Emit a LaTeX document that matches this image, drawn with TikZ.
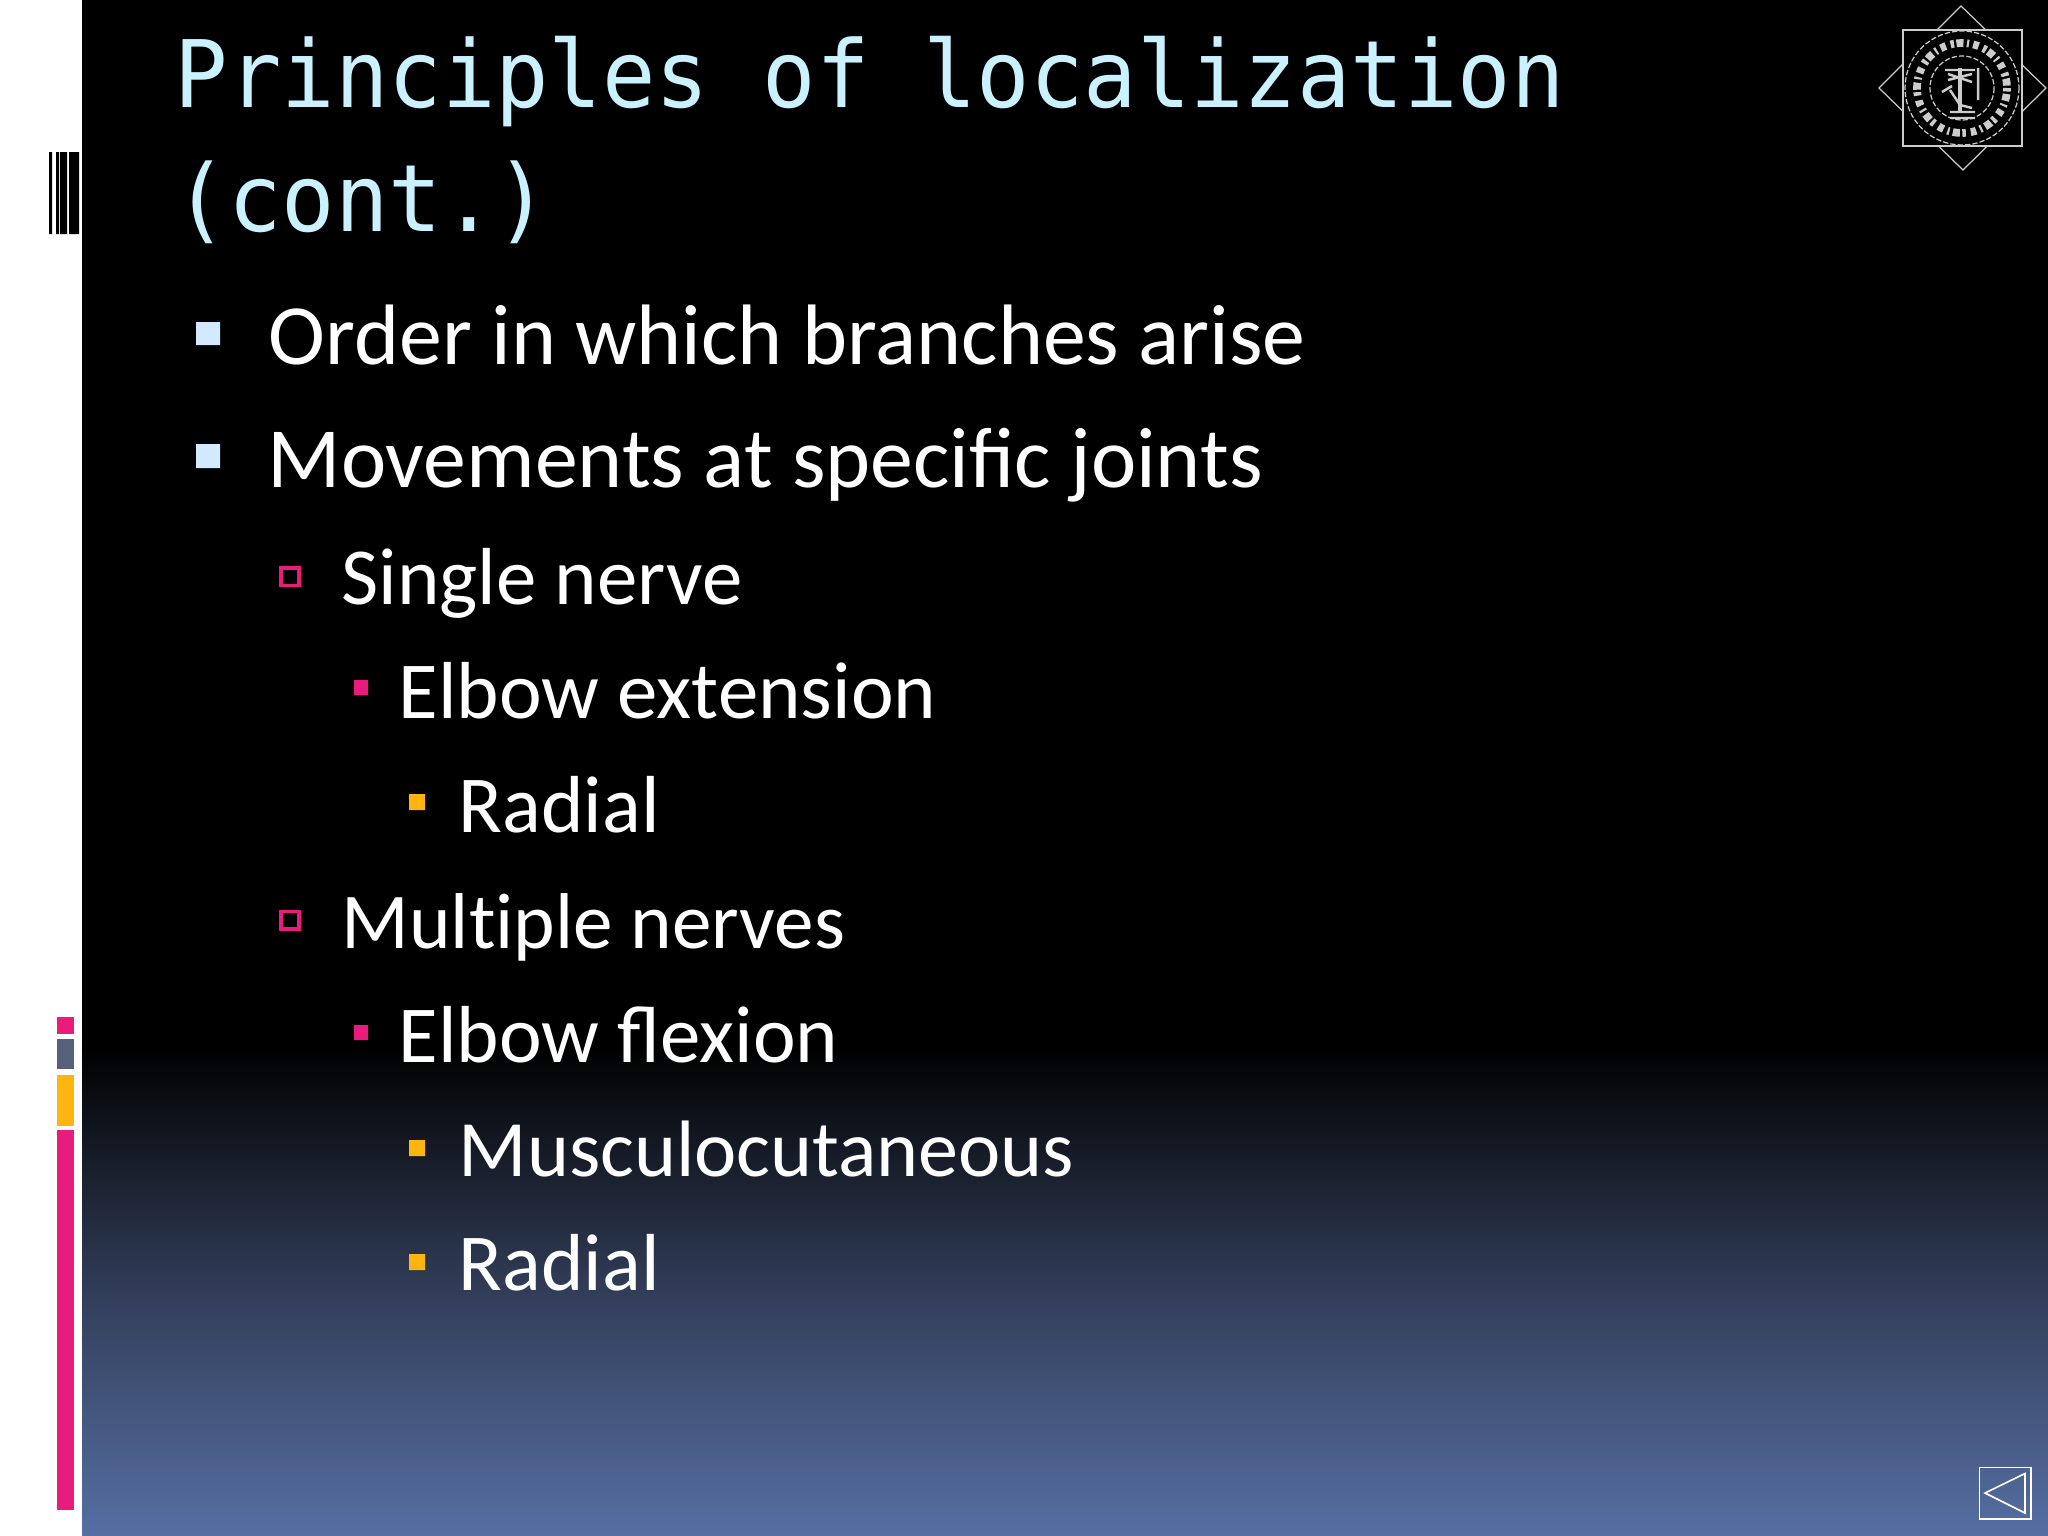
\documentclass[tikz,border=0pt]{standalone}
\usepackage{fontspec}
\setmainfont{Carlito}
\newfontfamily\titlefont[FakeStretch=0.953]{DejaVu Sans Mono}
\definecolor{titlecol}{HTML}{C9F1FF}
\definecolor{bulletblue}{HTML}{D3E9FF}
\definecolor{pinkbar}{HTML}{E91C7E}
\definecolor{greybar}{HTML}{566078}
\definecolor{amberbar}{HTML}{FFB40F}
\definecolor{gradbot}{HTML}{566FA3}
\definecolor{gradmid}{HTML}{35425F}
\tikzset{
  x=0.01cm,y=-0.01cm,
  titletext/.style={anchor=base west,inner sep=0pt,text=titlecol,font=\titlefont\fontsize{26.5pt}{30pt}\selectfont},
  bodyA/.style={anchor=base west,inner sep=0pt,text=white,font=\fontsize{24.4pt}{30pt}\selectfont},
  bodyB/.style={anchor=base west,inner sep=0pt,text=white,font=\fontsize{23pt}{28pt}\selectfont},
  sealline/.style={draw=white!80!black,line width=0.35pt},
}
\begin{document}
\begin{tikzpicture}
\useasboundingbox (0,0) rectangle (2048,1536);
\fill[white] (0,0) rectangle (82,1536);
\fill[black] (82,0) rectangle (2048,1045);
\shade[bottom color=gradmid,top color=black] (82,1045) rectangle (2048,1310);
\shade[bottom color=gradbot,top color=gradmid] (82,1310) rectangle (2048,1536);
% barcode
\fill[black] (49,152) rectangle (52,234) (56,152) rectangle (59,234) (60,152) rectangle (67,234) (69,152) rectangle (79,234);
% colour bars
\fill[pinkbar] (57,1017) rectangle (74,1034);
\fill[greybar] (57,1039) rectangle (74,1069);
\fill[amberbar] (57,1075) rectangle (74,1126);
\fill[pinkbar] (57,1130) rectangle (74,1510);
% title
\node[titletext] (t1) at (174,107) {Principles of localization};
\node[titletext] (t2) at (174,231) {(cont.)};
% bullets
\fill[bulletblue] (196,322) rectangle (220,345) (196,444) rectangle (220,468);
\draw[pinkbar,line width=1pt] (281,568) rectangle (299,585.5) (281,911.5) rectangle (299,929);
\fill[pinkbar] (354,680) rectangle (368,695) (354,1025) rectangle (368,1040);
\fill[amberbar] (409,794) rectangle (425,810) (409,1140) rectangle (425,1156) (409,1254) rectangle (425,1270);
% text
\node[bodyA] (a) at (268,364) {Order in which branches arise};
\node[bodyA] (b) at (267,487) {Movements at specific joints};
\node[bodyB] (c) at (341,604) {Single nerve};
\node[bodyB] (d) at (398,718) {Elbow extension};
\node[bodyB] (e) at (458,832) {Radial};
\node[bodyB,font=\fontsize{22.5pt}{28pt}\selectfont] (f) at (341,948) {Mult\kern0pt iple nerves};
\node[bodyB] (g) at (398,1062) {Elbow flexion};
\node[bodyB,font=\fontsize{22.75pt}{28pt}\selectfont] (h) at (458,1176) {Musculocutaneous};
\node[bodyB] (i) at (458,1290) {Radial};
% seal
\draw[sealline,fill=black] (1961,6) -- (2046,88) -- (1963,170) -- (1879,88) -- cycle;
\fill[black] (1903,30) rectangle (2022,146);
\draw[sealline,line width=0.55pt] (1903,30) rectangle (2022,146);
\draw[sealline,dash pattern=on 1.5pt off 0.6pt] (1962,88) circle (57);
\draw[sealline,line width=2.2pt,dash pattern=on 1pt off 0.7pt on 2pt off 1pt on 0.6pt off 1.2pt on 1.6pt off 1.4pt] (1962,88) circle (45);
\draw[sealline,dash pattern=on 1.5pt off 0.6pt] (1962,88) circle (32);
\draw[sealline,line width=1.3pt] (1960,68) -- (1960,112);
\draw[sealline,line width=0.7pt] (1945,70) -- (1975,70) (1948,80) -- (1972,74) (1948,74) -- (1972,82) (1950,118) -- (1975,118) (1950,112) -- (1975,112) (1950,90) -- (1960,105) -- (1972,108) (1942,92) -- (1952,86) (1978,68) -- (1978,100);
% back button
\draw[white,line width=0.45pt] (1979.5,1467.5) rectangle (2031,1519);
\draw[white,line width=0.45pt] (1985,1493) -- (2025,1473.5) -- (2025,1513) -- cycle;
\end{tikzpicture}
\end{document}
